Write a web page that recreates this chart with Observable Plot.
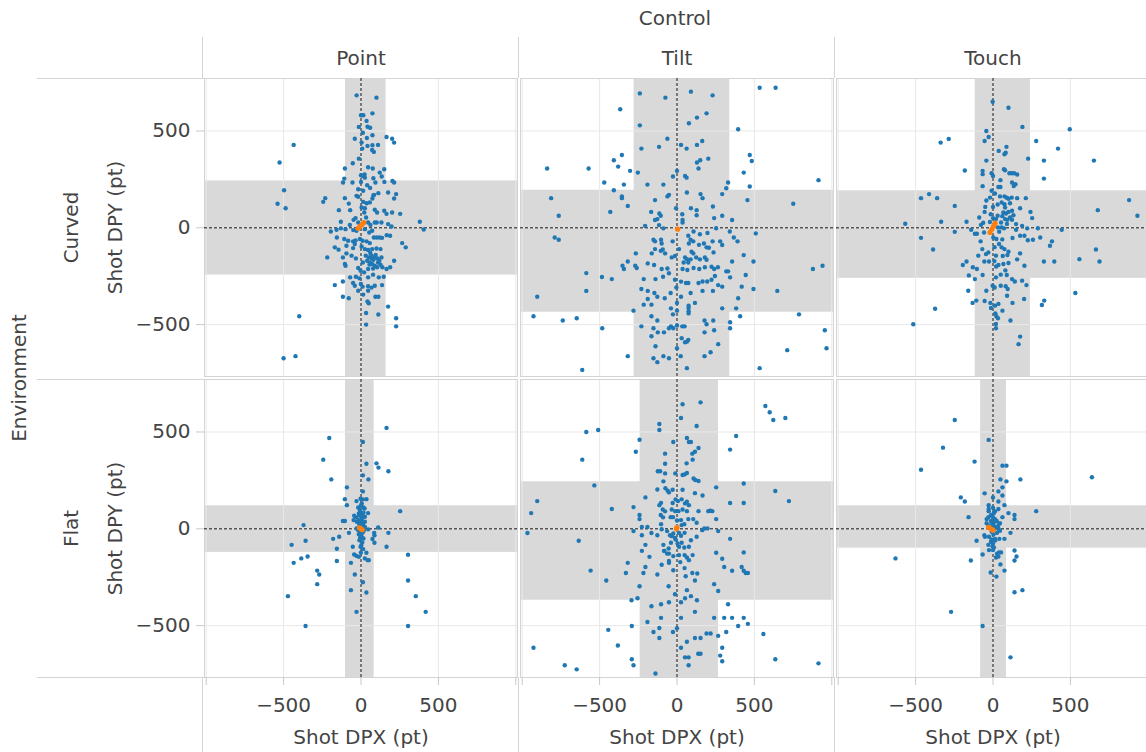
<!DOCTYPE html>
<html><head><meta charset="utf-8">
<script src="https://cdn.jsdelivr.net/npm/d3@7"></script>
<script src="https://cdn.jsdelivr.net/npm/@observablehq/plot@0.6"></script>
<style>
html,body{margin:0;padding:0;background:#fff;overflow:hidden;}
#chart{width:1146px;height:752px;overflow:hidden;position:relative;}
#chart svg{max-width:none !important;}
</style></head><body><div id="chart"></div>
<script>
const controls = ["Point", "Tilt", "Touch"];
const environments = ["Curved", "Flat"];
const xTicks = [-1000, -500, 0, 500, 1000];
const yTicks = [-500, 0, 500];

const panelControl = ["Point", "Tilt", "Touch", "Point", "Tilt", "Touch"];
const panelEnvironment = ["Curved", "Curved", "Curved", "Flat", "Flat", "Flat"];
const bandXLow = [-100, -277, -115, -100, -238, -80];
const bandXHigh = [162, 341, 242, 85, 268, 87];
const bandYLow = [-244, -436, -261, -122, -369, -100];
const bandYHigh = [242, 194, 191, 119, 243, 119];

const pointCurved = [[-28,684],[100,672],[0,581],[15,581],[74,591],[36,552],[-14,521],[42,522],[59,517],[12,491],[74,478],[165,469],[201,460],[214,440],[-40,460],[38,464],[-435,428],[4,440],[8,409],[42,423],[74,426],[110,428],[72,402],[83,392],[-526,337],[-14,357],[-53,333],[-104,306],[46,313],[76,306],[121,285],[150,302],[0,271],[12,268],[23,275],[-108,254],[-116,234],[-55,234],[0,237],[25,259],[80,256],[93,234],[134,265],[151,237],[203,242],[214,234],[-497,194],[-18,199],[14,191],[40,220],[59,206],[112,179],[85,170],[175,182],[227,174],[-231,153],[-244,134],[-104,153],[-79,125],[-29,165],[-18,160],[14,134],[36,127],[57,131],[74,151],[80,168],[-539,124],[-487,101],[214,151],[-143,91],[-70,91],[4,105],[25,101],[89,93],[104,79],[150,88],[165,72],[201,79],[253,72],[21,79],[33,53],[-35,50],[-18,27],[-130,31],[-72,15],[-48,41],[46,27],[61,15],[89,27],[102,27],[132,27],[175,19],[197,7],[380,31],[405,-9],[-195,-19],[-158,-10],[-130,-3],[-100,-7],[-50,-12],[-29,-15],[25,-7],[53,-24],[72,-15],[83,-50],[102,-50],[121,-50],[136,-52],[166,-38],[188,-41],[-156,-50],[-108,-58],[-83,-67],[-51,-70],[-35,-65],[-7,-58],[10,-67],[36,-70],[57,-79],[266,-79],[289,-101],[-169,-101],[-145,-113],[-94,-93],[-51,-105],[-40,-84],[4,-96],[25,-110],[46,-115],[72,-110],[100,-107],[126,-110],[-218,-153],[-117,-153],[-94,-132],[-61,-144],[-33,-158],[31,-144],[50,-153],[68,-144],[85,-153],[106,-158],[132,-153],[214,-170],[188,-204],[165,-213],[-104,-187],[-100,-196],[-18,-208],[12,-179],[40,-170],[57,-179],[72,-187],[89,-196],[110,-179],[126,-191],[46,-213],[78,-210],[104,-204],[138,-204],[-3,-222],[20,-230],[-70,-256],[-33,-253],[-10,-261],[46,-256],[78,-242],[115,-256],[147,-253],[-169,-296],[-117,-277],[-51,-285],[-40,-299],[-1,-290],[10,-304],[46,-302],[68,-309],[89,-299],[136,-296],[-18,-325],[14,-345],[46,-325],[-117,-356],[-79,-364],[42,-381],[50,-390],[93,-356],[112,-356],[175,-407],[33,-440],[112,-448],[-399,-457],[227,-467],[227,-509],[33,-500],[-500,-674],[-423,-663],[60,-130],[80,-165],[95,-140],[55,-190],[118,-170],[70,-160]];

const tiltCurved = [[-240,694],[-75,672],[90,703],[230,684],[534,723],[637,723],[-367,612],[129,569],[191,591],[77,540],[-240,529],[395,509],[-62,460],[26,428],[62,409],[129,428],[163,448],[-230,409],[-116,418],[202,357],[129,337],[150,349],[139,306],[470,376],[483,345],[-408,349],[-356,376],[-380,316],[-839,306],[-571,306],[-303,294],[-253,285],[0,294],[-26,265],[52,268],[62,259],[431,285],[-470,234],[-343,223],[-191,223],[-88,223],[330,234],[318,204],[470,213],[914,246],[-408,194],[64,182],[-52,170],[-62,162],[-356,162],[-356,153],[152,174],[165,153],[292,174],[-142,143],[-813,153],[455,143],[751,124],[-318,113],[-431,82],[-167,82],[-114,74],[-105,62],[-127,45],[-142,40],[90,101],[127,91],[127,65],[232,110],[-6,101],[34,70],[36,41],[36,27],[240,50],[292,62],[356,40],[-764,62],[-206,10],[-116,14],[-88,-3],[107,-19],[148,-33],[197,-27],[253,-2],[341,-19],[367,-50],[391,-70],[509,-29],[-790,-50],[-764,-62],[-152,-62],[-142,-70],[-103,-62],[-99,-81],[-92,-112],[-28,-70],[13,-110],[73,-41],[88,-62],[105,-70],[77,-81],[142,-88],[174,-81],[191,-101],[206,-103],[230,-70],[279,-70],[292,-89],[94,-124],[105,-132],[124,-153],[148,-163],[180,-153],[191,-165],[236,-127],[431,-141],[-163,-132],[-142,-110],[-105,-119],[-77,-132],[-34,-153],[-13,-146],[-266,-132],[-318,-174],[52,-153],[64,-162],[43,-179],[73,-179],[88,-163],[-270,-196],[-260,-208],[-352,-196],[-343,-213],[-189,-184],[-148,-192],[-99,-213],[-62,-210],[36,-213],[67,-218],[107,-208],[144,-213],[180,-204],[223,-201],[240,-213],[264,-204],[318,-225],[330,-225],[343,-256],[356,-174],[494,-174],[444,-244],[878,-213],[940,-196],[-586,-234],[-586,-326],[-485,-254],[-421,-265],[-215,-265],[-139,-265],[-90,-253],[-52,-235],[-13,-268],[26,-278],[58,-285],[73,-285],[139,-285],[165,-277],[195,-277],[223,-268],[245,-249],[266,-296],[292,-304],[418,-304],[494,-316],[648,-326],[-903,-356],[-230,-316],[-189,-326],[-146,-337],[-127,-356],[-79,-364],[-41,-337],[-4,-308],[26,-356],[88,-337],[165,-326],[232,-326],[-215,-397],[-189,-368],[-165,-397],[0,-388],[75,-402],[75,-414],[116,-388],[395,-364],[382,-416],[292,-416],[-281,-428],[-39,-416],[-26,-447],[0,-428],[75,-431],[75,-442],[234,-479],[408,-457],[788,-447],[-927,-457],[-738,-479],[-648,-467],[-165,-457],[-127,-479],[-230,-509],[-152,-519],[-124,-540],[-165,-560],[-39,-509],[-24,-519],[0,-505],[34,-509],[49,-509],[178,-479],[191,-498],[178,-540],[240,-529],[343,-488],[343,-519],[-483,-519],[-84,-540],[-52,-519],[30,-570],[52,-591],[64,-588],[73,-579],[-139,-612],[266,-601],[217,-643],[955,-529],[966,-622],[712,-632],[-318,-663],[-152,-674],[-127,-694],[-88,-663],[-52,-674],[0,-622],[24,-663],[178,-663],[64,-725],[534,-725],[-612,-734]];

const touchCurved = [[-2,651],[100,620],[190,521],[496,509],[-43,500],[-28,469],[-54,448],[-338,440],[-286,459],[279,448],[420,409],[37,397],[87,418],[74,380],[82,388],[227,357],[-43,347],[329,347],[329,254],[652,347],[-182,296],[-67,294],[-67,277],[-9,282],[0,268],[71,302],[78,297],[106,282],[121,282],[136,282],[156,275],[48,246],[35,211],[48,211],[123,234],[145,225],[134,216],[-67,215],[-9,191],[13,177],[-465,153],[-413,174],[-361,153],[-43,141],[-19,156],[45,162],[74,162],[89,155],[121,156],[156,153],[212,153],[-247,113],[56,131],[74,122],[110,127],[78,105],[-54,82],[-50,108],[0,108],[175,101],[242,82],[253,50],[67,79],[84,74],[100,82],[123,88],[132,65],[879,143],[677,91],[933,62],[-567,21],[-335,31],[-171,31],[-89,53],[-63,26],[-78,15],[-15,70],[0,50],[19,45],[30,62],[52,27],[78,45],[93,41],[110,53],[123,41],[149,19],[188,10],[221,-3],[-141,-10],[-117,-31],[-104,-31],[-58,-24],[-247,-21],[-465,-52],[-387,-112],[32,2],[56,2],[71,-3],[126,-53],[149,-10],[175,-41],[203,-41],[225,-64],[258,-62],[290,-2],[305,-50],[381,-70],[368,-93],[444,-10],[-80,-70],[2,-50],[22,-58],[39,-84],[56,-101],[74,-110],[100,-124],[-69,-110],[-45,-136],[-30,-127],[-95,-144],[19,-144],[63,-146],[93,-141],[156,-163],[175,-132],[-56,-174],[-26,-174],[9,-172],[-171,-174],[-195,-192],[35,-192],[67,-187],[100,-182],[203,-196],[329,-174],[396,-174],[558,-162],[665,-112],[688,-174],[-130,-204],[-104,-213],[-156,-246],[-117,-265],[-67,-244],[19,-256],[50,-242],[89,-244],[123,-265],[141,-277],[188,-273],[216,-296],[-2,-299],[11,-308],[50,-299],[82,-302],[95,-316],[-43,-325],[-160,-325],[91,-351],[201,-368],[532,-337],[-108,-376],[-132,-388],[-54,-378],[-17,-388],[13,-402],[35,-393],[61,-428],[126,-388],[331,-376],[316,-399],[-374,-418],[-13,-414],[15,-442],[22,-457],[32,-467],[19,-497],[19,-519],[113,-479],[-515,-498],[175,-562],[165,-601],[30,120],[60,60],[90,20],[40,-20],[10,-100],[60,-60],[100,150],[-20,30],[20,-200],[80,-220]];

const pointFlat = [[165,521],[-205,469],[12,448],[-244,357],[35,336],[100,338],[113,316],[177,297],[-192,255],[12,276],[48,255],[-91,214],[12,193],[-104,153],[-91,122],[-29,143],[-3,155],[12,152],[35,153],[-18,110],[-8,100],[5,131],[23,105],[46,81],[253,91],[-44,67],[-31,59],[-14,79],[3,71],[16,83],[25,62],[-117,40],[-104,40],[-48,45],[-27,36],[-14,45],[-1,33],[12,24],[25,36],[-371,19],[-29,2],[-18,-7],[-1,-16],[14,-7],[25,10],[46,-3],[-78,-21],[111,7],[177,-21],[-14,-28],[3,-38],[16,-50],[-10,-59],[85,-21],[87,-33],[74,-53],[87,-72],[-180,-52],[-141,-41],[-358,-62],[-448,-83],[-53,-93],[-3,-93],[14,-105],[-1,-124],[165,-93],[-156,-103],[-156,-166],[35,-124],[-44,-133],[-29,-140],[-14,-145],[25,-153],[44,-162],[50,-162],[-386,-153],[-345,-143],[-435,-176],[-65,-176],[-40,-236],[304,-134],[304,-267],[-283,-216],[-270,-236],[-283,-286],[12,-276],[35,-329],[-65,-317],[-472,-348],[354,-348],[418,-429],[-29,-429],[-358,-502],[304,-502],[-5,90],[5,60],[0,40],[8,20],[-8,10],[3,0],[10,-20],[-3,-30],[5,50],[-10,70],[15,110],[0,120],[-5,-45],[8,-70],[2,-85],[-12,25],[18,-10],[6,15]];

const tiltFlat = [[36,643],[152,653],[26,572],[-114,541],[-114,510],[127,531],[571,634],[599,602],[622,562],[700,572],[-586,500],[-509,510],[-242,460],[382,479],[-24,448],[64,469],[77,448],[90,448],[-266,398],[-77,388],[99,388],[116,398],[139,417],[343,409],[-612,357],[-77,336],[62,338],[101,357],[-124,297],[-109,297],[-77,286],[-11,286],[36,278],[49,281],[64,288],[-88,245],[107,260],[118,252],[139,247],[-534,224],[431,234],[-127,203],[-75,209],[-60,197],[-52,188],[-28,202],[36,202],[116,184],[165,172],[253,214],[635,195],[723,143],[-903,143],[-942,81],[-966,-22],[-204,162],[-28,133],[-9,152],[6,143],[30,152],[52,131],[64,140],[77,122],[-114,122],[-103,134],[-92,100],[-77,90],[-34,100],[-421,102],[-281,112],[-11,91],[9,91],[36,100],[64,91],[139,91],[202,91],[215,93],[228,91],[253,50],[343,133],[431,133],[-242,71],[-242,50],[-227,9],[-191,9],[-105,71],[-90,59],[-41,60],[-26,60],[0,43],[26,45],[30,19],[47,24],[73,50],[105,50],[127,31],[-281,-12],[-227,-33],[-165,-22],[-127,-33],[-103,24],[-99,-2],[-64,-12],[-45,-33],[-34,-38],[-24,-24],[-13,-47],[13,-21],[26,-36],[49,-21],[127,-41],[163,-7],[176,2],[197,2],[266,-12],[343,-52],[431,-122],[444,-228],[458,-228],[-635,-62],[-558,-216],[-457,-267],[-204,-83],[-227,-114],[-178,-145],[-204,-197],[-217,-228],[-88,-83],[-84,-114],[-54,-102],[-39,-72],[-9,-55],[4,-76],[13,-93],[30,-72],[47,-97],[77,-93],[-81,-114],[-64,-128],[-52,-128],[-24,-141],[13,-136],[49,-136],[64,-148],[77,-162],[101,-136],[90,-59],[-318,-176],[-330,-228],[-99,-186],[-52,-166],[-52,-176],[-24,-214],[21,-172],[49,-203],[56,-245],[99,-228],[253,-124],[292,-155],[305,-197],[356,-217],[418,-197],[431,-217],[-127,-236],[131,-231],[116,-267],[-242,-297],[-54,-297],[-13,-338],[64,-317],[90,-348],[52,-359],[129,-369],[240,-286],[266,-321],[-294,-369],[-255,-359],[-165,-400],[-103,-390],[-52,-379],[26,-379],[116,-429],[330,-390],[-191,-481],[-103,-460],[26,-460],[240,-460],[305,-460],[356,-460],[431,-460],[458,-491],[395,-502],[-444,-522],[-292,-502],[-152,-533],[-114,-512],[-114,-564],[-26,-533],[0,-514],[64,-583],[116,-564],[152,-564],[191,-541],[217,-541],[266,-553],[318,-533],[558,-543],[-382,-603],[-292,-674],[-281,-705],[-927,-614],[-725,-705],[-648,-726],[26,-614],[52,-664],[75,-664],[75,-705],[137,-645],[152,-645],[279,-655],[292,-614],[292,-684],[635,-674],[914,-695],[-139,-747]];

const touchFlat = [[-247,562],[-323,419],[-28,459],[-465,305],[-119,347],[61,326],[87,326],[177,255],[639,266],[48,255],[87,245],[61,214],[35,193],[61,172],[0,162],[35,141],[74,122],[-54,183],[-208,162],[-182,141],[-28,122],[-28,102],[-28,91],[13,91],[35,102],[0,109],[100,81],[139,71],[139,50],[61,60],[279,91],[-158,60],[-41,50],[-30,60],[-13,71],[0,60],[13,50],[24,40],[45,29],[35,19],[-41,29],[-30,19],[-13,40],[6,33],[13,10],[35,0],[45,-10],[26,-21],[113,-21],[-52,-41],[-106,-62],[-56,-33],[-26,-41],[-9,-55],[13,-52],[41,-52],[74,-52],[-13,-67],[0,-76],[-30,-83],[-26,-110],[6,-97],[0,-110],[26,-128],[39,-122],[52,-122],[139,-112],[152,-143],[139,-164],[-67,-133],[-143,-164],[19,-148],[35,-143],[48,-184],[74,-216],[-15,-226],[22,-247],[-630,-153],[139,-328],[190,-317],[-271,-429],[-67,-502],[113,-664],[5,80],[-5,30],[10,0],[-8,-15],[3,-30],[15,-60],[-3,-90],[8,40],[0,20],[-15,5]];

const pointCurvedMean = [[-18,-3],[-6,7],[6,17],[18,27]];
const tiltCurvedMean = [[4,-7]];
const touchCurvedMean = [[-19,-24],[-8,-8],[3,8],[13,24]];
const pointFlatMean = [[-10,5],[0,0],[8,-5]];
const tiltFlatMean = [[0,7],[-4,0]];
const touchFlatMean = [[-28,7],[-13,0],[0,-7]];

const panelShots = [pointCurved, tiltCurved, touchCurved, pointFlat, tiltFlat, touchFlat];
const panelMeans = [pointCurvedMean, tiltCurvedMean, touchCurvedMean, pointFlatMean, tiltFlatMean, touchFlatMean];

const toRows = arrs => arrs.flatMap((arr, i) => arr.map(([x, y]) => ({control: panelControl[i], environment: panelEnvironment[i], x, y})));
const shots = toRows(panelShots);
const means = toRows(panelMeans);
const bands = panelControl.map((c, i) => ({control: c, environment: panelEnvironment[i], x1: bandXLow[i], x2: bandXHigh[i], y1: bandYLow[i], y2: bandYHigh[i]}));

const colHeads = controls.map(c => ({control: c, environment: environments[0]}));
const colFoots = controls.map(c => ({control: c, environment: environments[environments.length - 1]}));
const rowHeads = environments.map(e => ({control: controls[0], environment: e}));
const fmt = d => d < 0 ? "\u2212" + Math.abs(d) : String(d);
const TXT = "#444";

const plot = Plot.plot({
  width: 1150, height: 752,
  marginTop: 77, marginRight: 0, marginBottom: 75, marginLeft: 203,
  fx: {domain: controls, paddingInner: 0.01, paddingOuter: 0, axis: null},
  fy: {domain: environments, paddingInner: 0.01, paddingOuter: 0, axis: null},
  x: {domain: [-1011, 1011]},
  y: {domain: [-768, 771]},
  style: {fontFamily: "DejaVu Sans", fontSize: "20px", color: TXT, background: "#fff", overflow: "visible", maxWidth: "none"},
  marks: [
    Plot.rect(bands, {fx: "control", fy: "environment", x1: "x1", x2: "x2", fill: "#d9d9d9"}),
    Plot.rect(bands, {fx: "control", fy: "environment", y1: "y1", y2: "y2", fill: "#d9d9d9"}),
    Plot.gridX({ticks: xTicks, stroke: "#e8e8e8", strokeOpacity: 1}),
    Plot.gridY({ticks: yTicks, stroke: "#e8e8e8", strokeOpacity: 1}),
    Plot.frame({stroke: "#d4d4d4"}),
    Plot.ruleX([0], {stroke: "#555", strokeDasharray: "3,2", strokeWidth: 1.5}),
    Plot.ruleY([0], {stroke: "#555", strokeDasharray: "3,2", strokeWidth: 1.5}),
    Plot.dot(shots, {fx: "control", fy: "environment", x: "x", y: "y", r: 2.2, fill: "#1f77b4"}),
    Plot.dot(means, {fx: "control", fy: "environment", x: "x", y: "y", r: 2.6, fill: "#ff7f0e"}),
    Plot.axisX({ticks: xTicks, tickFormat: d => Math.abs(d) === 1000 ? "" : fmt(d), tickSize: 8, tickPadding: 12, stroke: "#c8c8c8", fill: TXT, label: null}),
    Plot.axisY({ticks: yTicks, tickFormat: fmt, tickSize: 8, tickPadding: 6, stroke: "#c8c8c8", fill: TXT, label: null}),
    Plot.text(colHeads, {fx: "control", fy: "environment", text: "control", frameAnchor: "top", dy: -20, lineAnchor: "middle", fill: TXT}),
    Plot.text(colHeads.filter(d => d.control === controls[1]), {fx: "control", fy: "environment", text: () => "Control", frameAnchor: "top", dy: -60, dx: -2, lineAnchor: "middle", fill: TXT}),
    Plot.text(colFoots, {fx: "control", fy: "environment", text: () => "Shot DPX (pt)", frameAnchor: "bottom", dy: 60, lineAnchor: "middle", fill: TXT}),
    Plot.text(rowHeads, {fx: "control", fy: "environment", text: "environment", frameAnchor: "left", dx: -133, rotate: -90, textAnchor: "middle", lineAnchor: "middle", fill: TXT}),
    Plot.text(rowHeads, {fx: "control", fy: "environment", text: () => "Shot DPY (pt)", frameAnchor: "left", dx: -89, rotate: -90, textAnchor: "middle", lineAnchor: "middle", fill: TXT}),
    Plot.text(rowHeads.slice(0, 1), {fx: "control", fy: "environment", text: () => "Environment", frameAnchor: "bottom-left", dx: -185, dy: 1.5, rotate: -90, textAnchor: "middle", lineAnchor: "middle", fill: TXT})
  ]
});
plot.style.maxWidth = "none";
document.getElementById("chart").append(plot);

// header/footer separator lines derived from the facet scales
const fx = plot.scale("fx"), fy = plot.scale("fy");
const svg = d3.select(plot);
const g = svg.insert("g", ":first-child").attr("stroke", "#d4d4d4").attr("stroke-width", 1);
controls.forEach(c => {
  const x = Math.round(fx.apply(c)) - 1.5;
  g.append("line").attr("x1", x).attr("x2", x).attr("y1", 37).attr("y2", fy.apply(environments[0]));
  const yb = fy.apply(environments[1]) + fy.bandwidth;
  g.append("line").attr("x1", x).attr("x2", x).attr("y1", yb).attr("y2", 752);
});
environments.forEach(e => {
  const y = Math.round(fy.apply(e)) + 0.5;
  g.append("line").attr("x1", 37).attr("x2", fx.apply(controls[0])).attr("y1", y).attr("y2", y);
});
{
  const yb = Math.round(fy.apply(environments[1]) + fy.bandwidth) + 0.5;
  g.append("line").attr("x1", 37).attr("x2", fx.apply(controls[0])).attr("y1", yb).attr("y2", yb);
}
</script></body></html>
